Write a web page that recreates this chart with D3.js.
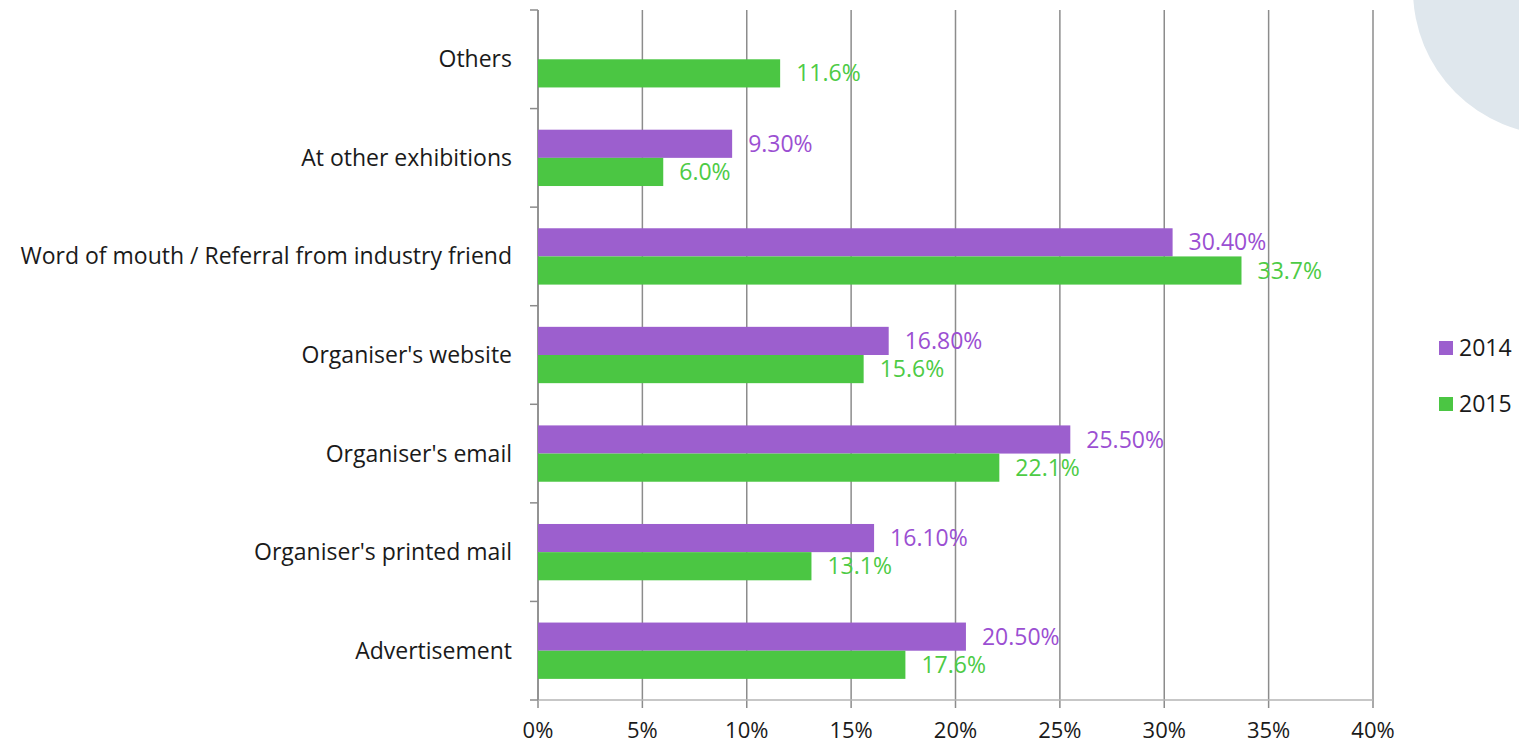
<!DOCTYPE html>
<html>
<head>
<meta charset="utf-8">
<script src="https://cdn.jsdelivr.net/npm/d3@7"></script>
<style>
  html, body { margin: 0; padding: 0; background: #ffffff; }
  svg { display: block; }
  text { font-family: "Open Sans", Lato, sans-serif; }
</style>
</head>
<body>
<svg id="chart" width="1519" height="746"></svg>
<script>
// Channels, listed top to bottom
const categories = [
  "Others",
  "At other exhibitions",
  "Word of mouth / Referral from industry friend",
  "Organiser's website",
  "Organiser's email",
  "Organiser's printed mail",
  "Advertisement"
];
const seriesNames = ["2014", "2015"];
// Share of respondents (%); null where no value was recorded
const values2014 = [null, 9.3, 30.4, 16.8, 25.5, 16.1, 20.5];
const values2015 = [11.6, 6.0, 33.7, 15.6, 22.1, 13.1, 17.6];
const labels2014 = [null, "9.30%", "30.40%", "16.80%", "25.50%", "16.10%", "20.50%"];
const labels2015 = ["11.6%", "6.0%", "33.7%", "15.6%", "22.1%", "13.1%", "17.6%"];
const xTicks = [0, 5, 10, 15, 20, 25, 30, 35, 40];

const colors = { "2014": "#9c5fce", "2015": "#4bc643" };
const labelColors = { "2014": "#9b4fd2", "2015": "#4dcb45" };

const svg = d3.select("#chart");
const plot = { left: 538, right: 1373, top: 10, bottom: 700 };
const fontSize = 23;

// Decorative disc in the top-right corner
svg.append("circle")
  .attr("cx", 1558).attr("cy", -10).attr("r", 145)
  .attr("fill", "#dfe7ed");

const x = d3.scaleLinear().domain([0, 40]).range([plot.left, plot.right]);
const y = d3.scaleBand().domain(categories).range([plot.top, plot.bottom]);
const inner = d3.scaleBand().domain(seriesNames)
  .range([0, y.bandwidth()]).paddingOuter(0.75).paddingInner(0);

// Vertical gridlines with tick marks below the axis
svg.append("g").selectAll("line").data(xTicks).join("line")
  .attr("x1", d => x(d)).attr("x2", d => x(d))
  .attr("y1", plot.top).attr("y2", plot.bottom + 8)
  .attr("stroke", "#8c8c8c").attr("stroke-width", 1.5);

// Horizontal axis line
svg.append("line")
  .attr("x1", plot.left).attr("x2", plot.right)
  .attr("y1", plot.bottom).attr("y2", plot.bottom)
  .attr("stroke", "#b5b5b5").attr("stroke-width", 1.5);

// Category axis with ticks on band boundaries
const bounds = categories.map(c => y(c)).concat([plot.bottom]);
svg.append("line")
  .attr("x1", plot.left).attr("x2", plot.left)
  .attr("y1", plot.top).attr("y2", plot.bottom)
  .attr("stroke", "#8c8c8c").attr("stroke-width", 1.5);
svg.append("g").selectAll("line").data(bounds).join("line")
  .attr("x1", plot.left - 8).attr("x2", plot.left)
  .attr("y1", d => d).attr("y2", d => d)
  .attr("stroke", "#8c8c8c").attr("stroke-width", 1.5);

// Category labels
svg.append("g").selectAll("text").data(categories).join("text")
  .attr("x", plot.left - 26).attr("y", d => y(d) + y.bandwidth() / 2)
  .attr("dy", "0.35em").attr("text-anchor", "end")
  .attr("font-size", fontSize).attr("fill", "#1a1a1a")
  .text(d => d);

// X tick labels
svg.append("g").selectAll("text").data(xTicks).join("text")
  .attr("x", d => x(d)).attr("y", 730)
  .attr("dy", "0.35em").attr("text-anchor", "middle")
  .attr("font-size", 22).attr("fill", "#1a1a1a")
  .text(d => d + "%");

// Bars and value labels
const series = [
  { name: "2014", values: values2014, labels: labels2014 },
  { name: "2015", values: values2015, labels: labels2015 }
];
series.forEach(s => {
  const rows = categories.map((c, i) => ({ c, v: s.values[i], l: s.labels[i] }))
    .filter(d => d.v != null);
  const g = svg.append("g");
  g.selectAll("rect").data(rows).join("rect")
    .attr("x", x(0))
    .attr("y", d => y(d.c) + inner(s.name))
    .attr("width", d => x(d.v) - x(0))
    .attr("height", inner.bandwidth())
    .attr("fill", colors[s.name]);
  g.selectAll("text").data(rows).join("text")
    .attr("x", d => x(d.v) + 16)
    .attr("y", d => y(d.c) + inner(s.name) + inner.bandwidth() / 2)
    .attr("dy", "0.35em")
    .attr("font-size", fontSize).attr("fill", labelColors[s.name])
    .text(d => d.l);
});

// Legend
const legend = svg.append("g").selectAll("g").data(seriesNames).join("g")
  .attr("transform", (d, i) => `translate(1439, ${341 + i * 56})`);
legend.append("rect").attr("width", 14).attr("height", 14)
  .attr("fill", d => colors[d]);
legend.append("text").attr("x", 20).attr("y", 7).attr("dy", "0.35em")
  .attr("font-size", fontSize).attr("fill", "#1a1a1a").text(d => d);
</script>
</body>
</html>
